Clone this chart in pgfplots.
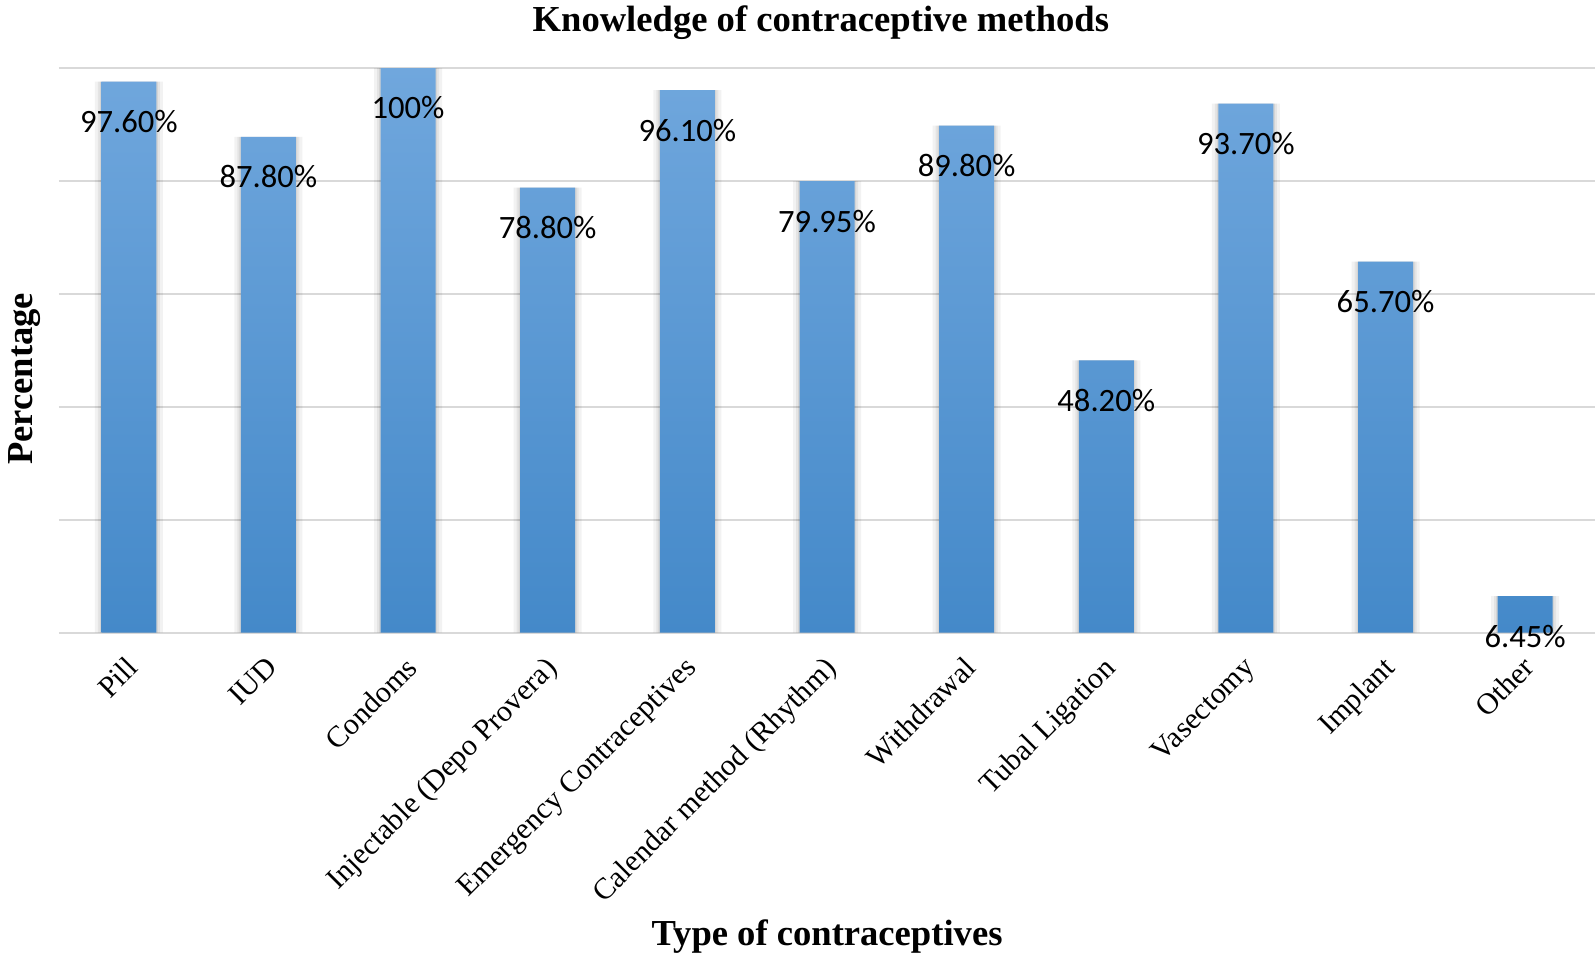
\documentclass[border=0pt]{standalone}
\usepackage{pgfplots}
\usepackage{pgfplotstable}
\pgfplotsset{compat=1.18}
\usepackage{fontspec}
\setmainfont{Liberation Serif}
\newfontfamily\calibri{Carlito}
\definecolor{barTop}{RGB}{112,167,221}
\definecolor{barMid}{RGB}{90,157,220}
\definecolor{barBot}{RGB}{68,137,201}
\definecolor{gridc}{RGB}{217,217,217}

\pgfplotstableread{
x y lab
0 97.6 97.60\%
1 87.8 87.80\%
2 100 100\%
3 78.8 78.80\%
4 96.1 96.10\%
5 79.95 79.95\%
6 89.8 89.80\%
7 48.2 48.20\%
8 93.7 93.70\%
9 65.7 65.70\%
10 6.45 6.45\%
}\datatable

\begin{document}
\begin{tikzpicture}
\begin{axis}[
  scale only axis, width=768pt, height=282.3pt,
  xmin=-0.5, xmax=10.5, ymin=0, ymax=100,
  ybar, bar width=27.5pt,
  axis line style={draw=none},
  ytick={0,20,...,100}, yticklabels={},
  ymajorgrids, grid style={gridc, line width=1.1pt},
  major tick length=0pt,
  xtick={0,...,10},
  xticklabels={Pill, IUD, Condoms, Injectable (Depo Provera), Emergency Contraceptives, Calendar method (Rhythm), Withdrawal, Tubal Ligation, Vasectomy, Implant, Other},
  xticklabel style={xshift=-2pt, yshift=-11pt, rotate=45, anchor=north east, font=\fontsize{15}{17}\selectfont, inner sep=0pt},
  title={Knowledge of contraceptive methods},
  every axis title/.style={font=\fontsize{18.3}{20}\selectfont\bfseries, at={(axis description cs:0.496,1.0638)}, anchor=base, inner sep=0pt},
  xlabel={Type of contraceptives},
  xlabel style={font=\fontsize{18.3}{20}\selectfont\bfseries, at={(axis description cs:0.5,-0.554)}, anchor=base, inner sep=0pt},
  ylabel={Percentage},
  ylabel style={font=\fontsize{18.3}{20}\selectfont\bfseries, at={(axis description cs:-0.0172,0.4495)}, anchor=base, inner sep=0pt},
  clip=false,
  point meta=explicit symbolic,
]
\addplot[draw=none, fill=black, fill opacity=0.05, bar width=34pt, bar shift=0pt, forget plot] table[x=x, y=y] {\datatable};
\addplot[draw=none, fill=black, fill opacity=0.06, bar width=31pt, bar shift=0pt, forget plot] table[x=x, y=y] {\datatable};
\addplot[draw=none, fill=black, fill opacity=0.07, bar width=29pt, bar shift=0pt, forget plot] table[x=x, y=y] {\datatable};
\addplot[draw=none, top color=barTop, middle color=barMid, bottom color=barBot, bar shift=0pt,
  nodes near coords,
  every node near coord/.append style={font=\calibri\fontsize{16.3}{18}\selectfont, text=black, anchor=center, yshift=-20pt, fill opacity=1, text opacity=1}]
  table[x=x, y=y, meta=lab] {\datatable};
\end{axis}
\pgfresetboundingbox
\path (-29.5pt,-163.2pt) rectangle (768pt,316.3pt);
\end{tikzpicture}
\end{document}
